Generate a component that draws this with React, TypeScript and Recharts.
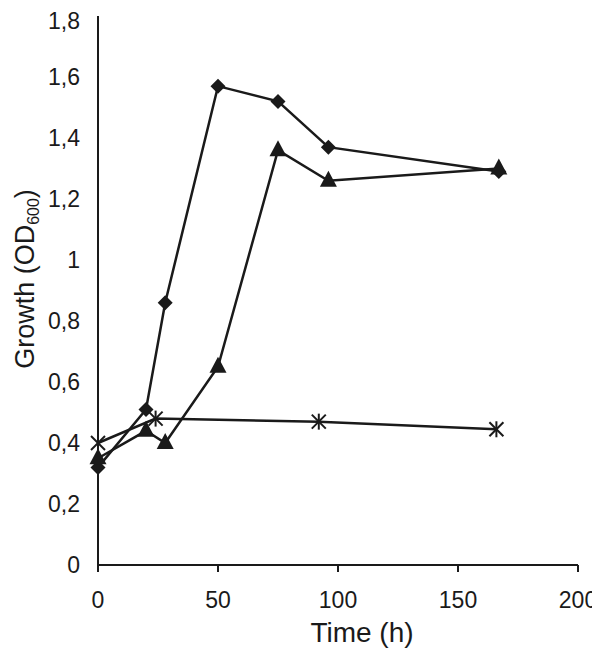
import { LineChart, Line, XAxis, YAxis } from "recharts";

// diamonds
const diamondTime = [0, 20, 28, 50, 75, 96, 167];
const diamondOD = [0.32, 0.51, 0.86, 1.57, 1.52, 1.37, 1.29];
// triangles
const triangleTime = [0, 20, 28, 50, 75, 96, 167];
const triangleOD = [0.35, 0.44, 0.4, 0.65, 1.36, 1.26, 1.3];
// asterisks
const starTime = [0, 24, 92, 166];
const starOD = [0.4, 0.48, 0.47, 0.445];

const xTicks = [0, 50, 100, 150, 200];
const yTicks = [0, 0.2, 0.4, 0.6, 0.8, 1, 1.2, 1.4, 1.6, 1.8];

const toRows = (xs: number[], ys: number[]) =>
  xs.map((t, i) => ({ t, od: ys[i] }));

const INK = "#1a1a1a";
const FONT = "'Liberation Sans', Arial, sans-serif";

const Diamond = (p: any) => {
  const { cx, cy } = p;
  const s = 7.5;
  return (
    <polygon
      key={p.index}
      points={`${cx},${cy - s} ${cx + s},${cy} ${cx},${cy + s} ${cx - s},${cy}`}
      fill={INK}
    />
  );
};

const Triangle = (p: any) => {
  const { cx, cy } = p;
  return (
    <polygon
      key={p.index}
      points={`${cx},${cy - 10} ${cx + 8.5},${cy + 6} ${cx - 8.5},${cy + 6}`}
      fill={INK}
    />
  );
};

const Star = (p: any) => {
  const { cx, cy } = p;
  const s = 7;
  return (
    <g key={p.index} stroke={INK} strokeWidth={2}>
      <line x1={cx - s} y1={cy - s} x2={cx + s} y2={cy + s} />
      <line x1={cx - s} y1={cy + s} x2={cx + s} y2={cy - s} />
      <line x1={cx} y1={cy - s - 1} x2={cx} y2={cy + s + 1} />
    </g>
  );
};

const fmt = (v: number) => (v === 0 || v === 1 ? String(v) : v.toFixed(1).replace(".", ","));

const yLabel = () => (
  <text transform="rotate(-90)" x={-271} y={26} textAnchor="middle" fontFamily={FONT} fontSize={27} fill={INK}>
    Growth (OD
    <tspan fontSize={16} dy={5}>600</tspan>
    <tspan dy={-5}>)</tspan>
  </text>
);

const xLabel = () => (
  <text x={354} y={634} textAnchor="middle" fontFamily={FONT} fontSize={28} fill={INK}>
    Time (h)
  </text>
);

export default function App() {
  return (
    <LineChart width={592} height={644} margin={{ top: 8, right: 22, bottom: 27, left: 0 }}>
      <XAxis
        type="number"
        dataKey="t"
        domain={[0, 200]}
        ticks={xTicks}
        allowDuplicatedCategory={false}
        stroke={INK}
        strokeWidth={2}
        tickSize={7}
        tickMargin={20}
        height={60}
        tick={{ fill: INK, fontSize: 23, fontFamily: FONT }}
        label={{ content: xLabel }}
      />
      <YAxis
        type="number"
        domain={[0, 1.8]}
        ticks={yTicks}
        tickFormatter={fmt}
        stroke={INK}
        strokeWidth={2}
        tickLine={false}
        tickSize={6}
        tickMargin={12}
        width={90}
        tick={{ fill: INK, fontSize: 23, fontFamily: FONT }}
        label={{ content: yLabel }}
      />
      <Line
        data={toRows(diamondTime, diamondOD)}
        dataKey="od"
        stroke={INK}
        strokeWidth={2.5}
        dot={Diamond}
        isAnimationActive={false}
      />
      <Line
        data={toRows(triangleTime, triangleOD)}
        dataKey="od"
        stroke={INK}
        strokeWidth={2.5}
        dot={Triangle}
        isAnimationActive={false}
      />
      <Line
        data={toRows(starTime, starOD)}
        dataKey="od"
        stroke={INK}
        strokeWidth={2.5}
        dot={Star}
        isAnimationActive={false}
      />
    </LineChart>
  );
}
